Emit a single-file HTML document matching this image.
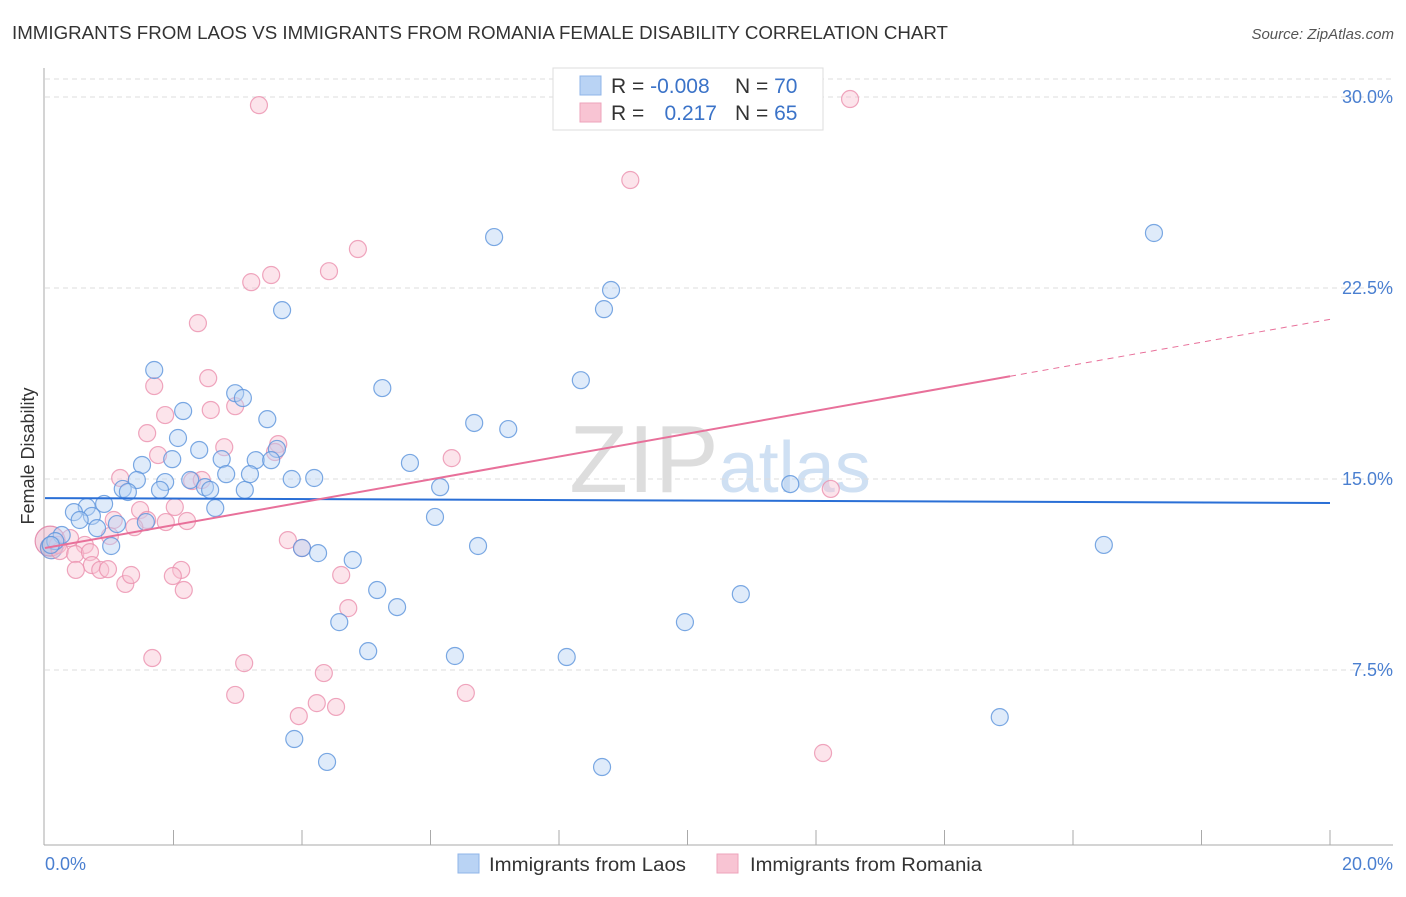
<!DOCTYPE html>
<html><head><meta charset="utf-8"><style>
body{margin:0;background:#fff;font-family:"Liberation Sans",sans-serif}
svg text{font-family:"Liberation Sans",sans-serif}
</style></head><body>
<svg id="c" width="1406" height="892" xmlns="http://www.w3.org/2000/svg">
<text x="12" y="39" font-size="18" fill="#333" textLength="936" lengthAdjust="spacingAndGlyphs">IMMIGRANTS FROM LAOS VS IMMIGRANTS FROM ROMANIA FEMALE DISABILITY CORRELATION CHART</text>
<text x="1394" y="39" font-size="15" fill="#555" text-anchor="end" font-style="italic">Source: ZipAtlas.com</text>
<text x="720" y="492" font-size="96" fill="#ddd" text-anchor="middle" font-family="Liberation Serif">ZIP<tspan fill="#cfe0f3" font-family="Liberation Sans" font-size="72">atlas</tspan></text>
<g id="grid"></g>
<line x1="44" y1="68" x2="44" y2="845" stroke="#aaa"/>
<line x1="44" y1="845" x2="1393" y2="845" stroke="#aaa"/>
<text transform="translate(34,456) rotate(-90)" font-size="18" fill="#333" text-anchor="middle">Female Disability</text>
<text x="45" y="870" font-size="18" fill="#4a7fd0">0.0%</text>
<text x="1393" y="870" font-size="18" fill="#4a7fd0" text-anchor="end">20.0%</text>
<g id="pts"></g>
<g id="trend"></g>
<g>
<rect x="553" y="68" width="270" height="62" fill="#fff" stroke="#ddd"/>
<rect x="580" y="76" width="21" height="19" fill="#b9d3f4" stroke="#8fb5e8"/>
<rect x="580" y="103" width="21" height="19" fill="#f8c4d3" stroke="#eea3bb"/>
<text x="611" y="93" font-size="21" fill="#333">R = <tspan fill="#3b73c8">-0.008</tspan></text>
<text x="735" y="93" font-size="21" fill="#333">N = <tspan fill="#3b73c8">70</tspan></text>
<text x="611" y="120" font-size="21" fill="#333">R = </text>
<text x="717" y="120" font-size="21" fill="#3b73c8" text-anchor="end">0.217</text>
<text x="735" y="120" font-size="21" fill="#333">N = <tspan fill="#3b73c8">65</tspan></text>
</g>
<g>
<rect x="458" y="854" width="21" height="19" fill="#b9d3f4" stroke="#8fb5e8"/>
<text x="489" y="871" font-size="19" fill="#333" textLength="197" lengthAdjust="spacingAndGlyphs">Immigrants from Laos</text>
<rect x="717" y="854" width="21" height="19" fill="#f8c4d3" stroke="#eea3bb"/>
<text x="750" y="871" font-size="19" fill="#333" textLength="232" lengthAdjust="spacingAndGlyphs">Immigrants from Romania</text>
</g>
</svg>
<script>
const yTicks=[30,22.5,15,7.5];
const xTickCount=10;
const laosX=[1.70,2.15,2.07,2.40,1.98,1.51,1.43,1.87,1.21,1.29,1.79,2.26,2.49,2.57,2.75,2.82,3.11,2.96,3.08,3.46,3.61,3.28,3.52,3.19,2.65,0.92,0.65,0.45,0.73,0.54,0.81,1.12,1.57,1.03,0.26,0.16,0.09,3.69,3.84,4.19,4.00,4.25,4.79,5.25,5.68,6.15,6.07,6.68,7.21,6.99,6.74,5.17,5.48,4.58,5.03,6.38,3.88,4.39,8.34,8.81,8.70,8.12,8.67,9.96,10.83,11.60,14.86,16.48,17.26];
const laosY=[19.28,17.67,16.61,16.14,15.78,15.55,14.96,14.88,14.61,14.49,14.57,14.96,14.68,14.57,15.78,15.19,14.57,18.37,18.18,17.35,16.18,15.74,15.74,15.19,13.86,14.02,13.90,13.70,13.55,13.39,13.07,13.23,13.31,12.37,12.80,12.56,12.41,21.63,15.00,15.04,12.29,12.09,11.82,18.57,15.63,14.68,13.51,17.20,16.96,24.50,12.37,10.64,9.97,9.38,8.24,8.05,4.79,3.89,18.88,22.42,21.67,8.01,3.69,9.38,10.48,14.80,5.65,12.41,24.66];
const romX=[3.33,12.53,9.11,4.87,4.42,3.52,3.21,2.38,1.70,2.54,1.87,2.58,2.96,1.59,1.76,2.79,3.63,3.58,6.33,12.23,1.17,2.29,2.44,1.48,2.02,1.59,1.07,2.21,1.88,1.39,1.01,3.78,4.00,0.62,0.39,0.20,0.23,0.47,0.70,0.73,0.48,0.86,0.98,1.25,1.34,2.12,1.99,2.16,4.61,4.72,1.67,3.10,4.34,2.96,4.23,4.53,3.95,6.55,12.11];
const romY=[29.68,29.92,26.74,24.03,23.16,23.01,22.73,21.12,18.65,18.96,17.51,17.71,17.86,16.80,15.94,16.25,16.37,16.06,15.82,14.61,15.04,14.92,14.96,13.78,13.90,13.39,13.39,13.35,13.31,13.11,12.76,12.60,12.29,12.41,12.68,12.41,12.17,12.05,12.13,11.62,11.43,11.43,11.46,10.88,11.23,11.43,11.19,10.64,11.23,9.93,7.97,7.77,7.38,6.52,6.20,6.05,5.69,6.60,4.24];
const laosTrend=[14.25,14.06];
const romTrend=[12.29,21.27];
const romSolidEnd=15.02;
const NS="http://www.w3.org/2000/svg";
const X=v=>45+v/20*1285, Y=v=>861-v/7.5*191;
function mk(t,a,p){const e=document.createElementNS(NS,t);for(const k in a)e.setAttribute(k,a[k]);p.appendChild(e);return e;}
const grid=document.getElementById('grid');
const tl=mk('line',{x1:45,y1:79,x2:1393,y2:79,stroke:'#ddd','stroke-dasharray':'5,4'},grid);


yTicks.forEach(v=>{
 const l=mk('line',{x1:45,y1:Y(v),x2:1393,y2:Y(v),stroke:'#ddd','stroke-dasharray':'5,4'},grid);
 
 
 const t=mk('text',{x:1393,y:Y(v)+6,'font-size':18,fill:'#4a7fd0','text-anchor':'end'},grid);
 t.textContent=v.toFixed(1)+'%';
 
 
});
for(let i=1;i<=xTickCount;i++){
 const x=X(i*20/xTickCount);
 const l=mk('line',{x1:x,y1:830,x2:x,y2:845,stroke:'#aaa'},grid);
 
 
}
const pts=document.getElementById('pts');
function dot(x,y,r,fill,stroke,name){
 const c=mk('circle',{cx:X(x),cy:Y(y),r:r,fill:fill,'fill-opacity':0.45,stroke:stroke,'stroke-width':1.2,'stroke-opacity':0.8},pts);
 
 
}
dot(0.08,12.56,15,'#e8a8c0','#e07aa0','romania-point-large');
dot(0.1,12.3,11,'#9fb0d8','#6d8fd0','laos-point-large');
romX.forEach((x,i)=>dot(x,romY[i],8.5,'#f8c4d3','#eb90ae','romania-point'));
laosX.forEach((x,i)=>dot(x,laosY[i],8.5,'#b9d3f4','#5b93dc','laos-point'));
const tr=document.getElementById('trend');
const bl=mk('line',{x1:X(0),y1:Y(laosTrend[0]),x2:X(20),y2:Y(laosTrend[1]),stroke:'#2a6fd6','stroke-width':2},tr);


const ry=x=>romTrend[0]+(romTrend[1]-romTrend[0])*x/20;
const pl=mk('line',{x1:X(0),y1:Y(ry(0)),x2:X(romSolidEnd),y2:Y(ry(romSolidEnd)),stroke:'#e8709a','stroke-width':2},tr);


const pd=mk('line',{x1:X(romSolidEnd),y1:Y(ry(romSolidEnd)),x2:X(20),y2:Y(ry(20)),stroke:'#e8709a','stroke-width':1,'stroke-dasharray':'6,5'},tr);


</script>
</body></html>
